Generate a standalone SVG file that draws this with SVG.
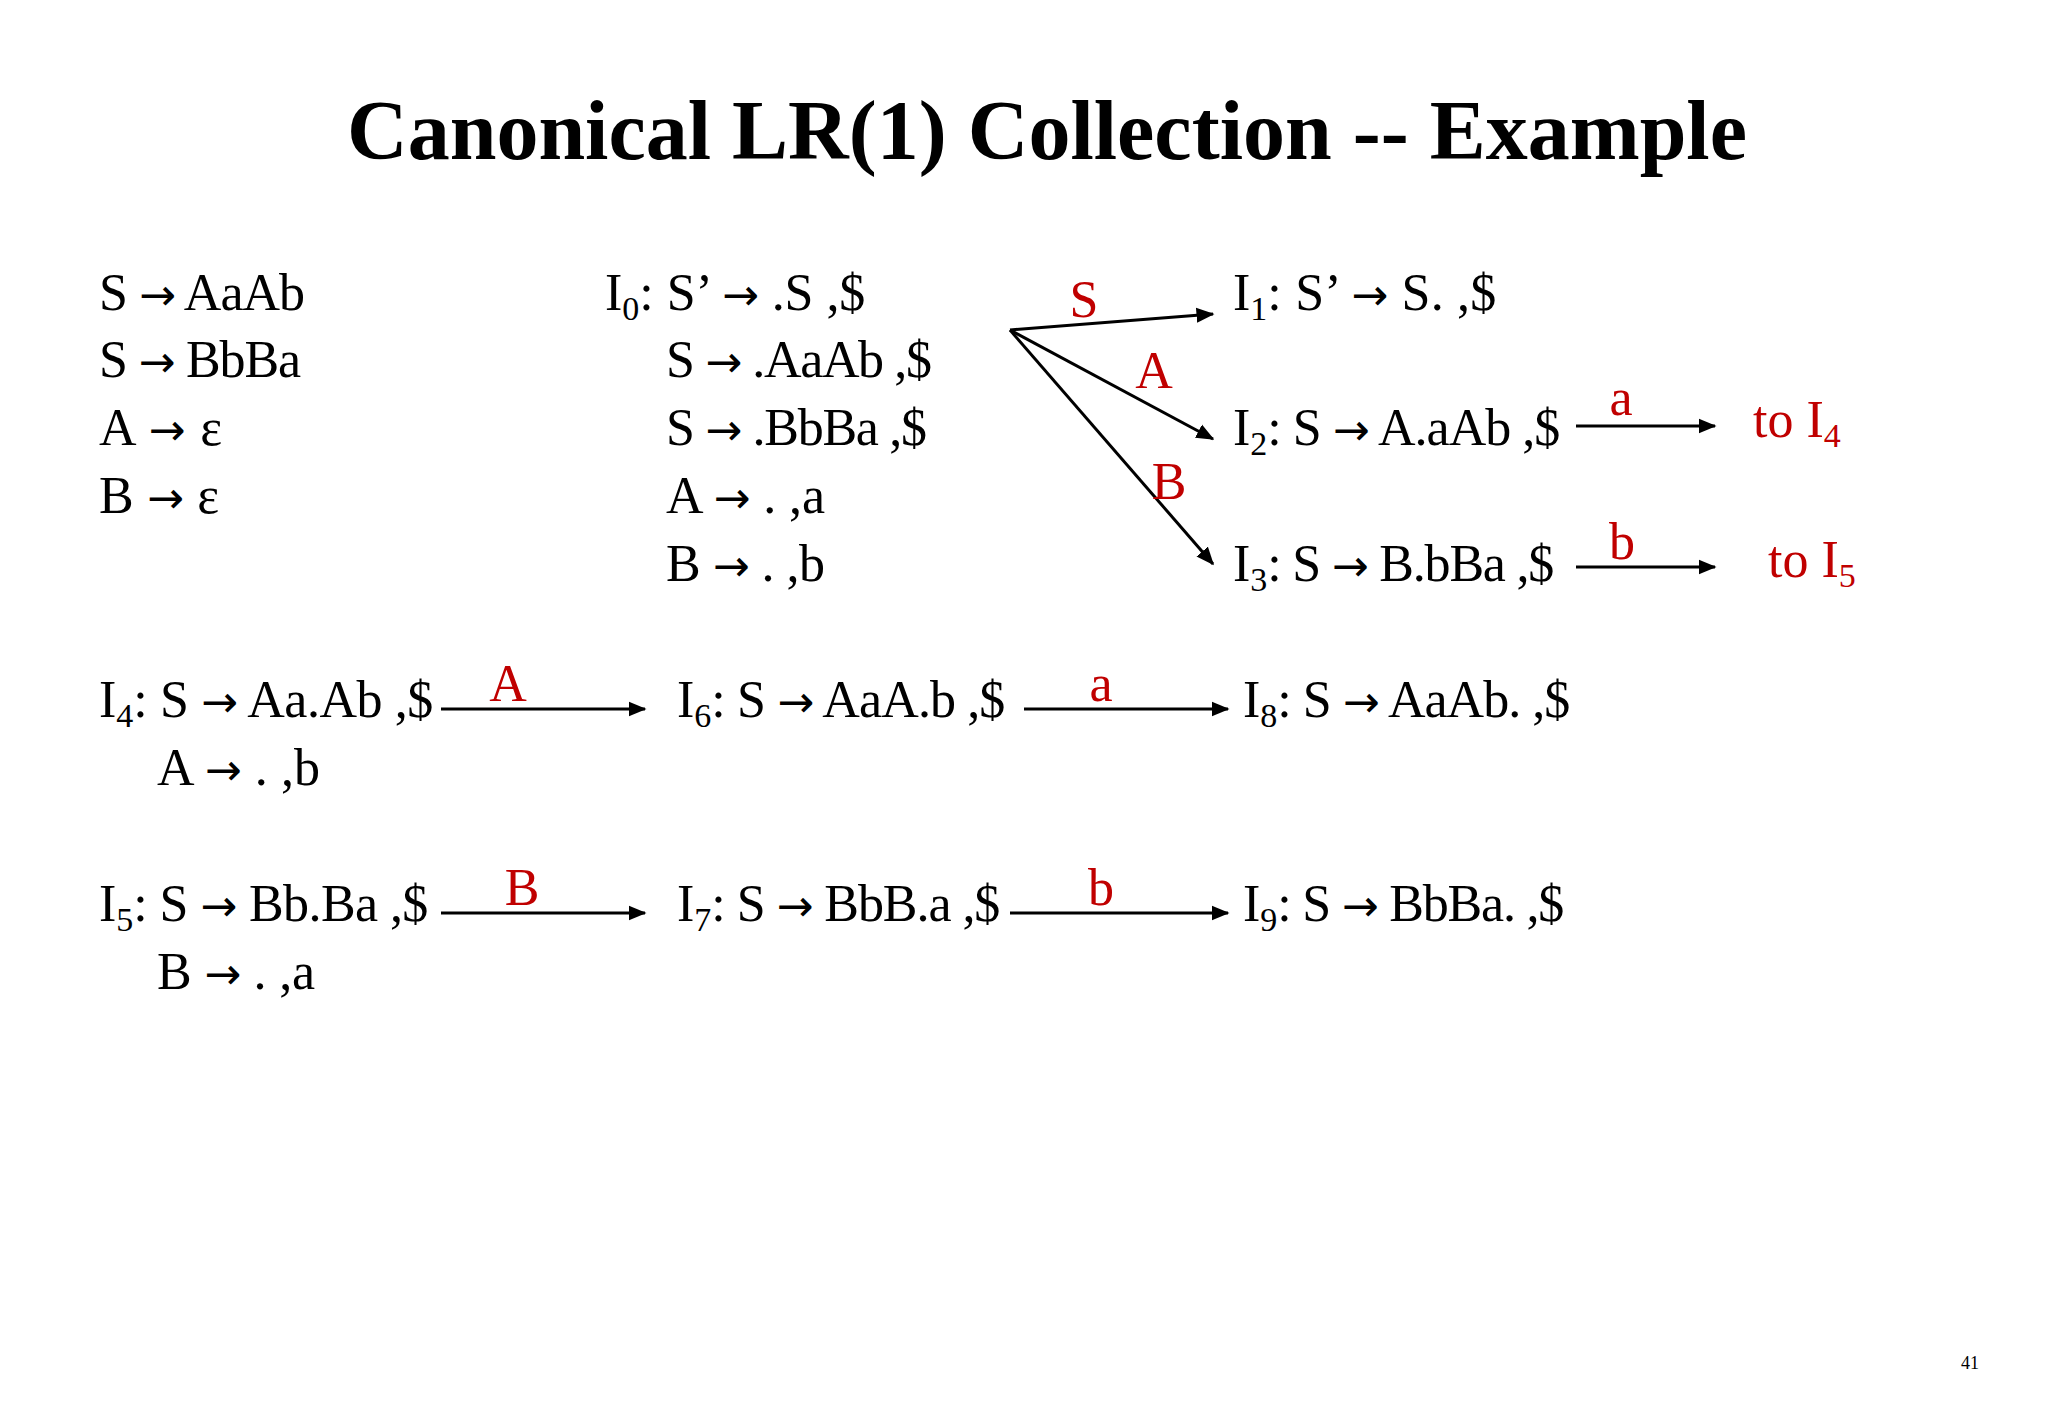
<svg xmlns="http://www.w3.org/2000/svg" width="2048" height="1418" viewBox="0 0 2048 1418">
<style>
text{font-family:"Liberation Serif","Times New Roman",serif;font-size:52px;fill:#000}
.t{font-size:84px;font-weight:bold}
.r{fill:#C00000}
.s{font-size:34px}
.a{font-family:"DejaVu Sans",sans-serif;font-size:44px}
.pn{font-size:18px}
.c line{stroke:#000;stroke-width:3;marker-end:url(#ah)}
</style>
<defs><marker id="ah" markerWidth="6" markerHeight="6" refX="5.5" refY="3" orient="auto" markerUnits="strokeWidth"><path d="M0,0.5 L6,3 L0,5.5 z" fill="#000"/></marker></defs>
<rect width="2048" height="1418" fill="#fff"/>
<text class="t" x="1047" y="159" text-anchor="middle" textLength="1400">Canonical LR(1) Collection -- Example</text>
<g id="grammar">
<text x="99" y="310" textLength="206">S <tspan class="a">→</tspan> AaAb</text>
<text x="99" y="377" textLength="202">S <tspan class="a">→</tspan> BbBa</text>
<text x="99" y="445" textLength="123">A <tspan class="a">→</tspan> ε</text>
<text x="99" y="513" textLength="120">B <tspan class="a">→</tspan> ε</text>
</g>
<g id="I0">
<text x="605" y="310">I<tspan class="s" dy="10">0</tspan><tspan dy="-10" textLength="226">: S’ <tspan class="a">→</tspan> .S ,$</tspan></text>
<text x="666" y="377" textLength="266">S <tspan class="a">→</tspan> .AaAb ,$</text>
<text x="666" y="445" textLength="261">S <tspan class="a">→</tspan> .BbBa ,$</text>
<text x="666" y="513" textLength="159">A <tspan class="a">→</tspan> . ,a</text>
<text x="666" y="581" textLength="159">B <tspan class="a">→</tspan> . ,b</text>
</g>
<g id="I1"><text x="1233" y="310">I<tspan class="s" dy="10">1</tspan><tspan dy="-10" textLength="229">: S’ <tspan class="a">→</tspan> S. ,$</tspan></text></g>
<g id="I2"><text x="1233" y="445">I<tspan class="s" dy="10">2</tspan><tspan dy="-10" textLength="293">: S <tspan class="a">→</tspan> A.aAb ,$</tspan></text></g>
<g id="I3"><text x="1233" y="581">I<tspan class="s" dy="10">3</tspan><tspan dy="-10" textLength="287">: S <tspan class="a">→</tspan> B.bBa ,$</tspan></text></g>
<g id="toI4"><text class="r" x="1753" y="437">to I<tspan class="s r" dy="10">4</tspan></text></g>
<g id="toI5"><text class="r" x="1768" y="577">to I<tspan class="s r" dy="10">5</tspan></text></g>
<g id="I4">
<text x="99" y="717">I<tspan class="s" dy="10">4</tspan><tspan dy="-10" textLength="300">: S <tspan class="a">→</tspan> Aa.Ab ,$</tspan></text>
<text x="157" y="785" textLength="163">A <tspan class="a">→</tspan> . ,b</text>
</g>
<g id="I6"><text x="677" y="717">I<tspan class="s" dy="10">6</tspan><tspan dy="-10" textLength="294">: S <tspan class="a">→</tspan> AaA.b ,$</tspan></text></g>
<g id="I8"><text x="1243" y="717">I<tspan class="s" dy="10">8</tspan><tspan dy="-10" textLength="293">: S <tspan class="a">→</tspan> AaAb. ,$</tspan></text></g>
<g id="I5">
<text x="99" y="921">I<tspan class="s" dy="10">5</tspan><tspan dy="-10" textLength="295">: S <tspan class="a">→</tspan> Bb.Ba ,$</tspan></text>
<text x="157" y="989" textLength="158">B <tspan class="a">→</tspan> . ,a</text>
</g>
<g id="I7"><text x="677" y="921">I<tspan class="s" dy="10">7</tspan><tspan dy="-10" textLength="289">: S <tspan class="a">→</tspan> BbB.a ,$</tspan></text></g>
<g id="I9"><text x="1243" y="921">I<tspan class="s" dy="10">9</tspan><tspan dy="-10" textLength="287">: S <tspan class="a">→</tspan> BbBa. ,$</tspan></text></g>
<g class="c" id="connectors">
<line x1="1010" y1="330" x2="1213" y2="314"/>
<line x1="1010" y1="330" x2="1213" y2="439"/>
<line x1="1010" y1="330" x2="1213" y2="564"/>
<line x1="1576" y1="426" x2="1715" y2="426"/>
<line x1="1576" y1="567" x2="1715" y2="567"/>
<line x1="441" y1="709" x2="645" y2="709"/>
<line x1="1024" y1="709" x2="1228" y2="709"/>
<line x1="441" y1="913" x2="645" y2="913"/>
<line x1="1010" y1="913" x2="1228" y2="913"/>
<text class="r" x="1084" y="317" text-anchor="middle">S</text>
<text class="r" x="1154" y="388" text-anchor="middle">A</text>
<text class="r" x="1169" y="499" text-anchor="middle">B</text>
<text class="r" x="1621" y="415" text-anchor="middle">a</text>
<text class="r" x="1622" y="559" text-anchor="middle">b</text>
<text class="r" x="508" y="701" text-anchor="middle">A</text>
<text class="r" x="1101" y="701" text-anchor="middle">a</text>
<text class="r" x="522" y="905" text-anchor="middle">B</text>
<text class="r" x="1101" y="905" text-anchor="middle">b</text>
</g>
<text class="pn" x="1970" y="1369" text-anchor="middle">41</text>
</svg>
